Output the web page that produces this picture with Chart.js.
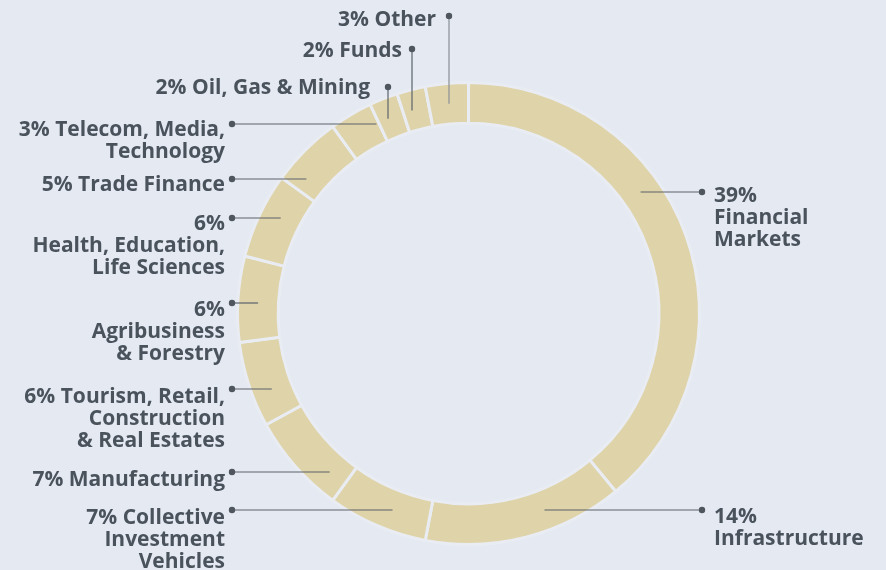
<!DOCTYPE html>
<html>
<head>
<meta charset="utf-8">
<script src="https://cdn.jsdelivr.net/npm/chart.js@4.4.1/dist/chart.umd.min.js"></script>
<style>
    html, body { margin: 0; padding: 0; background: #e4e9f2; }
    #wrap { width: 886px; height: 570px; }
</style>
</head>
<body>
<div id="wrap"><canvas id="sectorChart" width="886" height="570"></canvas></div>
<script>
// sectors, clockwise from 12 o'clock
const categories = [
    'Financial Markets', 'Infrastructure', 'Collective Investment Vehicles', 'Manufacturing',
    'Tourism, Retail, Construction & Real Estates', 'Agribusiness & Forestry',
    'Health, Education, Life Sciences', 'Trade Finance', 'Telecom, Media, Technology',
    'Oil, Gas & Mining', 'Funds', 'Other'
];
const shares = [39, 14, 7, 7, 6, 6, 6, 5, 3, 2, 2, 3];

// label text as it is broken in the picture
const labelLines = [
    ['39%', 'Financial', 'Markets'],
    ['14%', 'Infrastructure'],
    ['7% Collective', 'Investment', 'Vehicles'],
    ['7% Manufacturing'],
    ['6% Tourism, Retail,', 'Construction', '& Real Estates'],
    ['6%', 'Agribusiness', '& Forestry'],
    ['6%', 'Health, Education,', 'Life Sciences'],
    ['5% Trade Finance'],
    ['3% Telecom, Media,', 'Technology'],
    ['2% Oil, Gas & Mining'],
    ['2% Funds'],
    ['3% Other']
];

// where each callout sits: dot position, leader direction, first text line
const calloutLayout = [
    { dot: [702, 192], dir: 'h', tx: 714, ty: 196, align: 'left' },
    { dot: [702, 510], dir: 'h', tx: 714, ty: 517, align: 'left' },
    { dot: [232, 510], dir: 'h', tx: 225, ty: 518, align: 'right' },
    { dot: [232, 472], dir: 'h', tx: 225, ty: 480, align: 'right' },
    { dot: [232, 389], dir: 'h', tx: 225, ty: 397, align: 'right' },
    { dot: [232, 303], dir: 'h', tx: 225, ty: 310, align: 'right' },
    { dot: [232, 218], dir: 'h', tx: 225, ty: 224, align: 'right' },
    { dot: [232, 179], dir: 'h', tx: 225, ty: 185, align: 'right' },
    { dot: [232, 124], dir: 'h', tx: 225, ty: 130, align: 'right' },
    { dot: [388, 87], dir: 'v', tx: 370, ty: 88, align: 'right' },
    { dot: [412, 49], dir: 'v', tx: 402, ty: 51, align: 'right' },
    { dot: [449, 16], dir: 'v', tx: 436, ty: 20, align: 'right' }
];

const textColor = '#4a525b';
const lineHeight = 22;

const calloutPlugin = {
    id: 'callouts',
    afterDatasetsDraw(chart) {
        const ctx = chart.ctx;
        const arcs = chart.getDatasetMeta(0).data;
        ctx.save();
        arcs.forEach((arc, i) => {
            const p = arc.getProps(['x', 'y', 'innerRadius', 'outerRadius']);
            const rMid = (p.innerRadius + p.outerRadius) / 2;
            const lay = calloutLayout[i];
            const [dx, dy] = lay.dot;
            let sx, sy;
            if (lay.dir === 'h') {
                const off = dy - p.y;
                const w = Math.sqrt(Math.max(rMid * rMid - off * off, 0));
                sx = dx < p.x ? p.x - w : p.x + w;
                sy = dy;
            } else {
                const off = dx - p.x;
                sx = dx;
                sy = p.y - Math.sqrt(Math.max(rMid * rMid - off * off, 0));
            }
            ctx.strokeStyle = i === 11 ? '#8a9097' : '#5c636b';
            ctx.lineWidth = 1.2;
            ctx.beginPath();
            ctx.moveTo(sx, sy);
            ctx.lineTo(dx, dy);
            ctx.stroke();
            ctx.fillStyle = '#4f565e';
            ctx.beginPath();
            ctx.arc(dx, dy, 3.2, 0, Math.PI * 2);
            ctx.fill();

            ctx.fillStyle = textColor;
            ctx.font = 'bold 21px "Open Sans"';
            ctx.textAlign = lay.align;
            ctx.textBaseline = 'middle';
            labelLines[i].forEach((line, k) => {
                ctx.fillText(line, lay.tx, lay.ty + k * lineHeight);
            });
        });
        ctx.restore();
    }
};

new Chart(document.getElementById('sectorChart'), {
    type: 'doughnut',
    data: {
        labels: categories,
        datasets: [{
            data: shares,
            backgroundColor: '#dfd3a9',
            borderColor: '#e9edf3',
            borderWidth: 3,
            hoverOffset: 0
        }]
    },
    options: {
        responsive: false,
        animation: false,
        cutout: '82.4%',
        layout: { padding: { left: 236, right: 185, top: 81, bottom: 24 } },
        plugins: {
            legend: { display: false },
            tooltip: { enabled: false }
        }
    },
    plugins: [calloutPlugin]
});
</script>
</body>
</html>
